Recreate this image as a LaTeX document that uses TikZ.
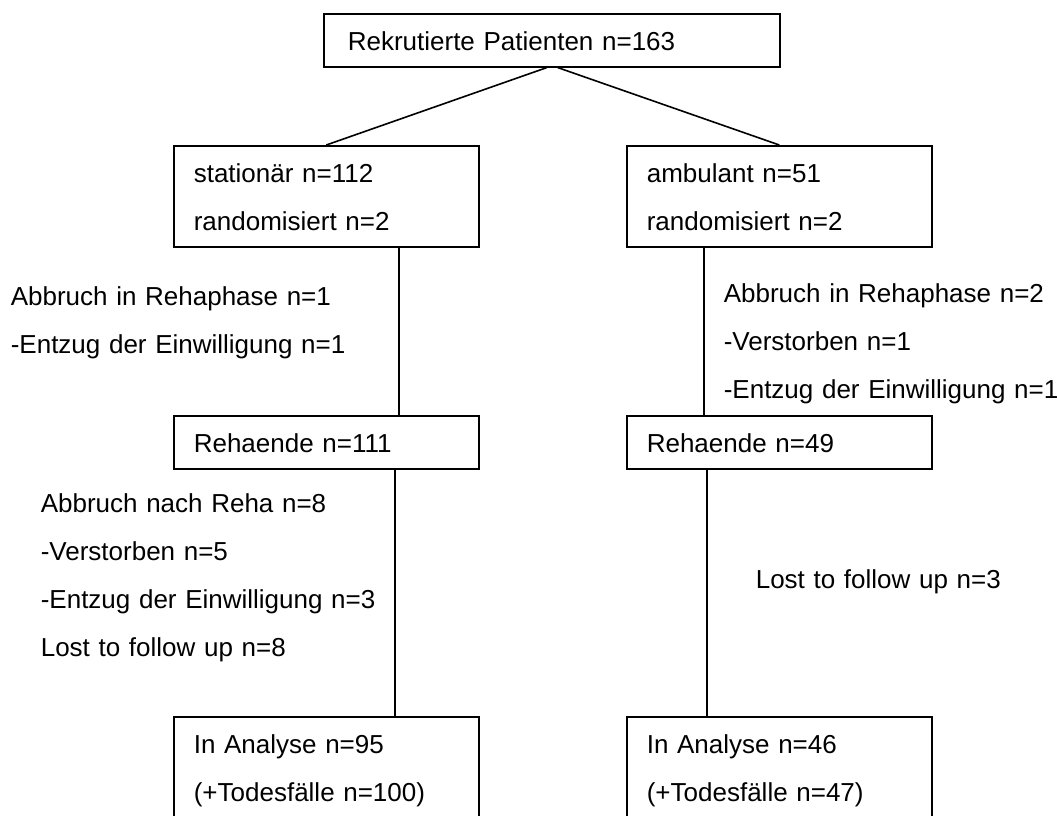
\documentclass[tikz,border=0pt]{standalone}
\usepackage{fontspec}
\setmainfont{Liberation Sans}

\begin{document}
\begin{tikzpicture}[x=1pt,y=-1pt]


% GLOBAL SETTINGS
\newcommand{\colL}{173}
\newcommand{\colR}{626}
\newcommand{\boxfont}{\fontsize{26}{48}\selectfont}
\newcommand{\topstrut}{\vrule height 37pt depth 0pt width 0pt}
\newcommand{\botstrut}{\vrule height 0pt depth 16pt width 0pt}
\tikzset{
stage/.style={draw, line width=1.6pt, anchor=north west, inner ysep=0pt,
  inner xsep=20pt, text width=265pt, align=left, font=\boxfont},
note/.style={anchor=north west, inner sep=0pt, text width=360pt,
  align=left, font=\boxfont}
}
\pgfkeys{/tikz/every path/.style={line width=1.6pt}} % plain lines
\useasboundingbox (0,0) rectangle (1057,816);

% TOP
\node[stage, inner xsep=24pt, text width=408pt] (rek) at (323,13)
{\topstrut Rekrutierte Patienten n=163\botstrut};

% STATIONAER / AMBULANT
\node[stage] (stat) at (\colL,145)
{\topstrut stationär n=112\\randomisiert n=2\botstrut};
\node[stage] (amb) at (\colR,145)
{\topstrut ambulant n=51\\randomisiert n=2\botstrut};

% REHAENDE
\node[stage] (rehaL) at (\colL,415) {\topstrut Rehaende n=111\botstrut};
\node[stage] (rehaR) at (\colR,415) {\topstrut Rehaende n=49\botstrut};

% ANALYSE
\node[stage] (anaL) at (\colL,716)
{\topstrut In Analyse n=95\\(+Todesfälle n=100)\botstrut};
\node[stage] (anaR) at (\colR,716)
{\topstrut In Analyse n=46\\(+Todesfälle n=47)\botstrut};

% DROP-OUTS
\node[note] (dropL1) at (10,268)
{\topstrut Abbruch in Rehaphase n=1\\-Entzug der Einwilligung n=1};
\node[note] (dropR1) at (723,265)
{\topstrut Abbruch in Rehaphase n=2\\-Verstorben n=1\\-Entzug der Einwilligung n=1};
\node[note] (dropL2) at (40,475)
{\topstrut Abbruch nach Reha n=8\\-Verstorben n=5\\-Entzug der Einwilligung n=3\\Lost to follow up n=8};
\node[note] (dropR2) at (755,551) {\topstrut Lost to follow up n=3};



% EDGES
\draw ([xshift=-5]rek.south) -- (stat.north);
\draw ([xshift=6]rek.south) -- (amb.north);
\draw ([xshift=72.5]stat.south) -- ([xshift=72.5]rehaL.north);
\draw ([xshift=68.5]rehaL.south) -- ([xshift=68.5]anaL.north);
\draw ([xshift=-75.5]amb.south) -- ([xshift=-75.5]rehaR.north);
\draw ([xshift=-72.5]rehaR.south) -- ([xshift=-72.5]anaR.north);

\end{tikzpicture}
\end{document}
